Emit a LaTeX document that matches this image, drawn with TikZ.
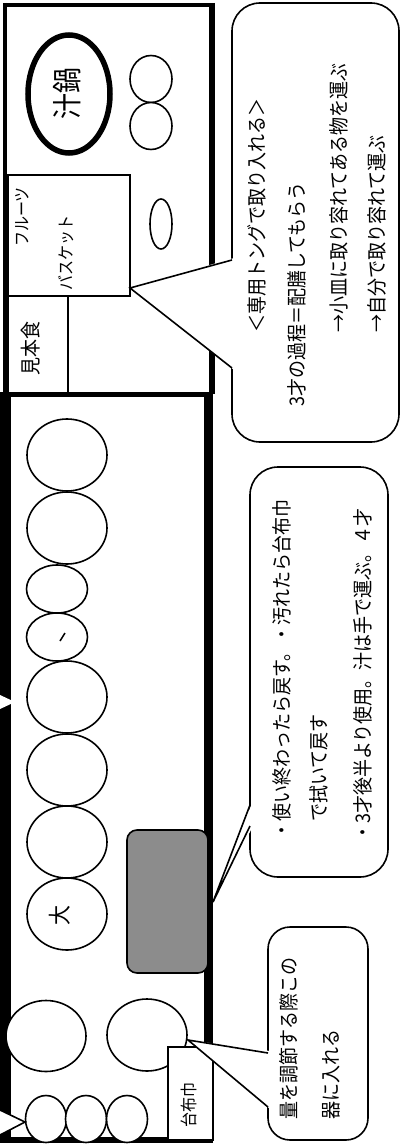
\documentclass[tikz,border=0pt]{standalone}
\usepackage{fontspec}
\newfontfamily\jp{Noto Sans CJK JP}
\definecolor{dither}{HTML}{8C8C8C}

\begin{document}
\begin{tikzpicture}[x=1pt,y=-1pt,
    outl/.style={line width=1.6pt},
    plate/.style={draw,line width=1.6pt,fill=white},
    box/.style={draw,line width=1.5pt,fill=white},
    bubble/.style={draw,line width=1.6pt,fill=white,rounded corners=28pt},
    btext/.style={font=\jp\fontsize{18}{20}\selectfont,rotate=90,yscale=1.12,anchor=west,inner sep=0pt},
    tag/.style={font=\jp\fontsize{18}{20}\selectfont,rotate=90,yscale=1.15,inner sep=0pt}]
  \useasboundingbox (0,0) rectangle (403,1148);
  \draw[line width=4pt] (5,5) -- (211,5);
  \draw[line width=4pt] (5,3) -- (5,394);
  \draw[line width=6pt] (211.5,3) -- (211.5,394);
  \fill (0,392) rectangle (213,397);
  \fill (0,392) rectangle (11,1143);
  \fill (204,392) rectangle (213,1143);
  \fill (0,1137) rectangle (213,1143);
  \draw[line width=5.5pt] (69,94) ellipse [x radius=41, y radius=59];
  \node[tag,font=\jp\fontsize{26}{28}\selectfont] (nabe) at (67,93) {汁鍋};
  \draw[plate] (151,79) ellipse [x radius=21, y radius=23.5];
  \draw[plate] (151,126) ellipse [x radius=21, y radius=23.5];
  \draw[plate] (161,224) ellipse [x radius=11, y radius=25];
  \draw[box] (8,175) rectangle (130,296);
  \node[tag,font=\jp\fontsize{15}{17}\selectfont] (fruit) at (22,217) {フルーツ};
  \node[tag,font=\jp\fontsize{15}{17}\selectfont] (basket) at (66,253) {バスケット};
  \draw[box] (8,296) rectangle (68,393);
  \node[tag] (mihon) at (31,348) {見本食};
  \foreach \y in {455,528,697,770,842,914}
    \draw[plate] (67,\y) ellipse [x radius=40, y radius=36];
  \foreach \y in {589,637}
    \draw[plate] (57,\y) ellipse [x radius=30.5, y radius=24];
  \draw[line width=1.5pt] (60,641) -- (65,633);
  \node[tag,font=\jp\fontsize{20}{22}\selectfont] (dai) at (60,915) {大};
  \draw[outl,fill=dither,rounded corners=10pt] (127,830) rectangle (208,973);
  \draw[plate] (46,1036) ellipse [x radius=40, y radius=35.5];
  \draw[plate] (147,1035) ellipse [x radius=40, y radius=36];
  \foreach \x in {46,86,127}
    \draw[plate] (\x,1119) ellipse [x radius=20.5, y radius=23.5];
  \draw[box] (168,1047) rectangle (213,1140);
  \node[tag,font=\jp\fontsize{15}{17}\selectfont] (fukin) at (189,1105) {台布巾};
  \fill[white] (0,695) -- (15,702) -- (0,709) -- cycle;
  \draw[outl,fill=white] (0,1110) -- (25,1122) -- (0,1135);
  \draw[bubble] (232,3) rectangle (399,442);
  \fill[white] (234,258) -- (130,288) -- (234,370) -- cycle;
  \draw[outl] (232,260) -- (130,288) -- (232,368);
  \node[btext] (tong) at (257,333) {＜専用トングで取り入れる＞};
  \node[btext] (haizen) at (297,407) {3才の過程＝配膳してもらう};
  \node[btext] (kozara) at (339,333) {→小皿に取り容れてある物を運ぶ};
  \node[btext] (jibun) at (377,333) {→自分で取り容れて運ぶ};
  \draw[bubble] (250,467) rectangle (388,877);
  \fill[white] (252,803) -- (213,902) -- (252,828) -- cycle;
  \draw[outl] (250,805) -- (213,902) -- (250,826);
  \node[btext] (modosu) at (282,840) {・使い終わったら戻す。・汚れたら台布巾};
  \node[btext] (fuite) at (319,822) {で拭いて戻す};
  \node[btext] (shiru) at (363,842) {・3才後半より使用。汁は手で運ぶ。４才};
  \draw[bubble,rounded corners=22pt] (268,927) rectangle (368,1140);
  \fill[white] (270,1051) -- (188,1040) -- (270,1109) -- cycle;
  \draw[outl] (268,1053) -- (188,1040) -- (268,1107);
  \node[btext] (ryou) at (289,1120) {量を調節する際この};
  \node[btext] (utsuwa) at (331,1120) {器に入れる};
\end{tikzpicture}
\end{document}
